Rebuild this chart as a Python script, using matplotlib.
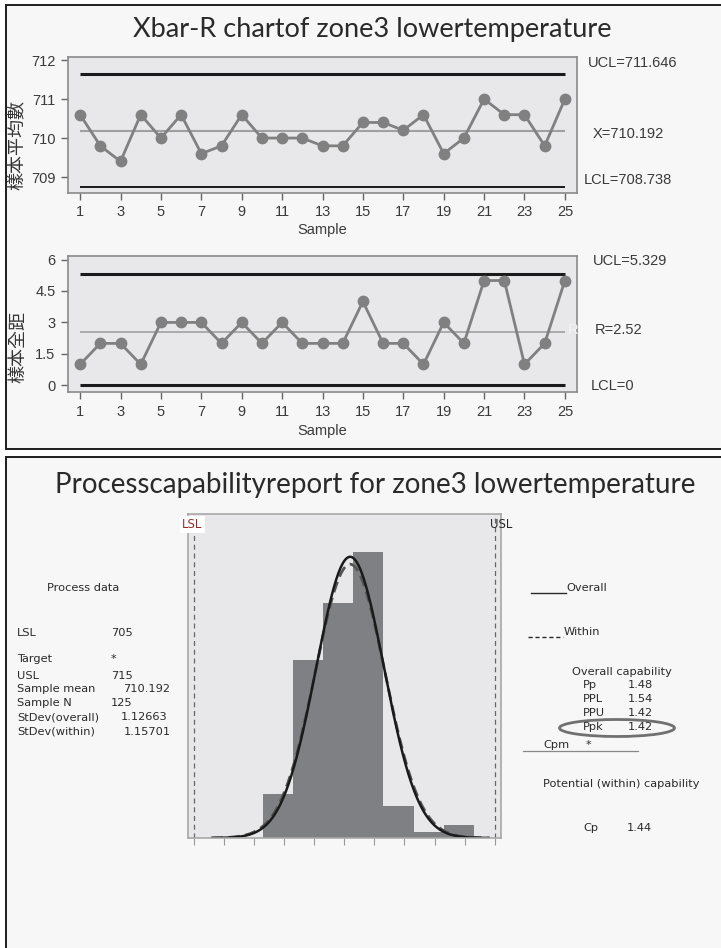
import numpy as np
import matplotlib
matplotlib.use("Agg")
import matplotlib.pyplot as plt
from matplotlib.patches import Rectangle, Ellipse
from matplotlib.lines import Line2D

# ---- data ----
samples = list(range(1, 26))
xbar = [710.6, 709.8, 709.4, 710.6, 710.0, 710.6, 709.6, 709.8, 710.6, 710.0,
        710.0, 710.0, 709.8, 709.8, 710.4, 710.4, 710.2, 710.6, 709.6, 710.0,
        711.0, 710.6, 710.6, 709.8, 711.0]
ranges = [1, 2, 2, 1, 3, 3, 3, 2, 3, 2, 3, 2, 2, 2, 4, 2, 2, 1, 3, 2, 5, 5, 1, 2, 5]
xbar_ucl, xbar_cl, xbar_lcl = 711.646, 710.192, 708.738
r_ucl, r_cl, r_lcl = 5.329, 2.52, 0.0

bin_edges = [707.3, 708.3, 709.3, 710.3, 711.3, 712.3, 713.3, 714.3]
bin_counts = [7, 28, 37, 45, 5, 1, 2]
lsl, usl = 705, 715
sample_mean = 710.192
sample_n = 125
sd_overall = 1.12663
sd_within = 1.15701

process_labels = ["LSL", "Target", "USL", "Sample mean", "Sample N", "StDev(overall)", "StDev(within)"]
process_values = ["705", "*", "715", "710.192", "125", "1.12663", "1.15701"]
overall_labels = ["Pp", "PPL", "PPU", "Ppk"]
overall_values = ["1.48", "1.54", "1.42", "1.42"]

W, H = 721, 948
fig = plt.figure(figsize=(W / 100, H / 100), dpi=100, facecolor="white")

NARROW = ["Liberation Sans", "DejaVu Sans"]
CJK = ["Noto Sans CJK TC", "DejaVu Sans"]
TITLE = ["Lato", "DejaVu Sans"]
SMALL = ["DejaVu Sans"]
TXT = "#2a2a2a"
AX_TXT = "#3a3a3a"


def px_axes(l, t, r, b):
    return fig.add_axes([l / W, 1 - b / H, (r - l) / W, (b - t) / H])


def ftext(x, y, s, **kw):
    kw.setdefault("color", TXT)
    kw.setdefault("va", "center")
    return fig.text(x / W, 1 - y / H, s, **kw)


def ctext(x, y, s, **kw):
    # chart annotation text in the narrow face
    kw.setdefault("fontsize", 10.5)
    kw.setdefault("color", AX_TXT)
    return ftext(x, y, s, family=NARROW, stretch="condensed", **kw)


# panel frames
for top, bot in [(5, 449), (457, 970)]:
    fig.add_artist(Rectangle((6 / W, 1 - bot / H), (760 - 6) / W, (bot - top) / H,
                             transform=fig.transFigure, facecolor="#f7f7f7",
                             edgecolor="#1e1e1e", lw=1.4, zorder=-5))


def style_chart(ax):
    ax.set_facecolor("#e8e8ea")
    for sp in ax.spines.values():
        sp.set_color("#8a8a8a")
        sp.set_linewidth(1.2)
    ax.tick_params(direction="out", length=5, width=1, color="#666666",
                   labelcolor=AX_TXT, labelsize=10.5, pad=4)
    ax.set_xlim(0.4, 25.6)
    ax.set_xticks(range(1, 26, 2))
    for lab in ax.get_xticklabels() + ax.get_yticklabels():
        lab.set_family(NARROW)
        lab.set_stretch("condensed")


# ---- Xbar chart ----
ax1 = px_axes(68, 57, 577, 193)
ax1.hlines(xbar_ucl, 1, 25, color="#1a1a1a", lw=2.2)
ax1.hlines(xbar_lcl, 1, 25, color="#1a1a1a", lw=1.4)
ax1.hlines(xbar_cl, 1, 25, color="#a0a0a0", lw=1.5)
ax1.plot(samples, xbar, color="#808080", lw=2, marker="o", ms=7.5, mfc="#808080", mec="#808080")
ax1.set_ylim(708.59, 712.08)
ax1.set_yticks([709, 710, 711, 712])
style_chart(ax1)
ftext(372, 30, "Xbar-R chartof zone3 lowertemperature", ha="center", fontsize=19.5, family=TITLE)
ftext(18, 145, "樣本平均數", rotation=90, ha="center", fontsize=13, family=CJK, color="#333333")
ctext(322, 230, "Sample", ha="center")
ctext(588, 63, "UCL=711.646")
ctext(593, 134, "X=710.192")
ctext(584, 180, "LCL=708.738")

# ---- R chart ----
ax2 = px_axes(68, 256, 577, 392)
ax2.hlines(r_ucl, 1, 25, color="#1a1a1a", lw=2.2)
ax2.hlines(r_lcl, 1, 25, color="#1a1a1a", lw=2.2)
ax2.hlines(r_cl, 1, 25, color="#a0a0a0", lw=1.2)
ax2.plot(samples, ranges, color="#808080", lw=2, marker="o", ms=7.5, mfc="#808080", mec="#808080")
ax2.set_ylim(-0.32, 6.17)
ax2.set_yticks([0, 1.5, 3, 4.5, 6])
ax2.set_yticklabels(["0", "1.5", "3", "4.5", "6"])
style_chart(ax2)
ftext(18, 347, "樣本全距", rotation=90, ha="center", fontsize=13, family=CJK, color="#333333")
ctext(322, 431, "Sample", ha="center")
ctext(593, 261, "UCL=5.329")
ctext(568, 330, "R", color="#f4f4f4")
ctext(595, 330, "R=2.52")
ctext(591, 386, "LCL=0")

# ---- capability histogram ----
ftext(375, 485, "Processcapabilityreport for zone3 lowertemperature", ha="center",
      fontsize=20, family=TITLE)

ax3 = px_axes(188, 514, 501, 838)
ax3.set_facecolor("#e8e8ea")
for sp in ax3.spines.values():
    sp.set_color("#a8a8a8")
    sp.set_linewidth(1.2)
dens = np.array(bin_counts) / sample_n
ax3.bar(bin_edges[:-1], dens, width=np.diff(bin_edges), align="edge", color="#7f8083", lw=0)
xs = np.linspace(705.6, 714.8, 400)
overall = np.exp(-0.5 * ((xs - sample_mean) / sd_overall) ** 2) / (sd_overall * np.sqrt(2 * np.pi))
within = np.exp(-0.5 * ((xs - sample_mean) / sd_within) ** 2) / (sd_within * np.sqrt(2 * np.pi))
ax3.plot(xs, within, color="#555555", lw=2, ls=(0, (4, 2)))
ax3.plot(xs, overall, color="#1a1a1a", lw=1.8)
for v in (lsl, usl):
    ax3.axvline(v, color="#666666", lw=0.9, ls=(0, (4, 3)))
ax3.set_xlim(704.8, 715.21)
ax3.set_ylim(0, 0.408)
ax3.set_xticks(range(lsl, usl + 1))
ax3.set_xticklabels([])
ax3.set_yticks([])
ax3.tick_params(direction="out", length=5, color="#999999")
ax3.text(lsl - 0.05, 0.395, "LSL", color="#9b2b2b", ha="center", va="center", fontsize=8.5,
         family=SMALL, bbox=dict(fc="white", ec="none", pad=1.5))
ax3.text(usl + 0.2, 0.395, "USL", color=TXT, ha="center", va="center", fontsize=8.5,
         family=SMALL)

# ---- left text block ----
fs = 8.2
ftext(47, 588, "Process data", fontsize=fs, family=SMALL)
label_y = [633, 659, 676, 689, 703, 717, 732]
value_x = [111, 111, 111, 123, 111, 121, 124]
for lab, val, y, vx in zip(process_labels, process_values, label_y, value_x):
    ftext(17, y, lab, fontsize=fs, family=SMALL)
    ftext(vx, y, val, fontsize=fs, family=SMALL)

# ---- right text block ----
fig.add_artist(Line2D([531 / W, 566 / W], [1 - 593 / H, 1 - 593 / H], color=TXT, lw=1))
ftext(566, 588, "Overall", fontsize=fs, family=SMALL)
fig.add_artist(Line2D([528 / W, 563 / W], [1 - 637 / H, 1 - 637 / H], color=TXT, lw=1, ls=(0, (3, 2))))
ftext(564, 632, "Within", fontsize=fs, family=SMALL)
ftext(572, 672, "Overall capability", fontsize=fs, family=SMALL)
for lab, val, y in zip(overall_labels, overall_values, [685, 699, 713, 727]):
    ftext(583, y, lab, fontsize=fs, family=SMALL)
    ftext(628, y, val, fontsize=fs, family=SMALL)
fig.add_artist(Ellipse((617 / W, 1 - 728 / H), 115 / W, 17 / H, transform=fig.transFigure,
                       fill=False, ec="#707070", lw=2))
ftext(543, 745, "Cpm", fontsize=fs, family=SMALL)
ftext(586, 745, "*", fontsize=fs, family=SMALL)
fig.add_artist(Line2D([523 / W, 638 / W], [1 - 751 / H, 1 - 751 / H], color="#888888", lw=0.9))
ftext(543, 784, "Potential (within) capability", fontsize=fs, family=SMALL)
ftext(583, 828, "Cp", fontsize=fs, family=SMALL)
ftext(627, 828, "1.44", fontsize=fs, family=SMALL)

fig.savefig("out.png", dpi=100, facecolor="white")
